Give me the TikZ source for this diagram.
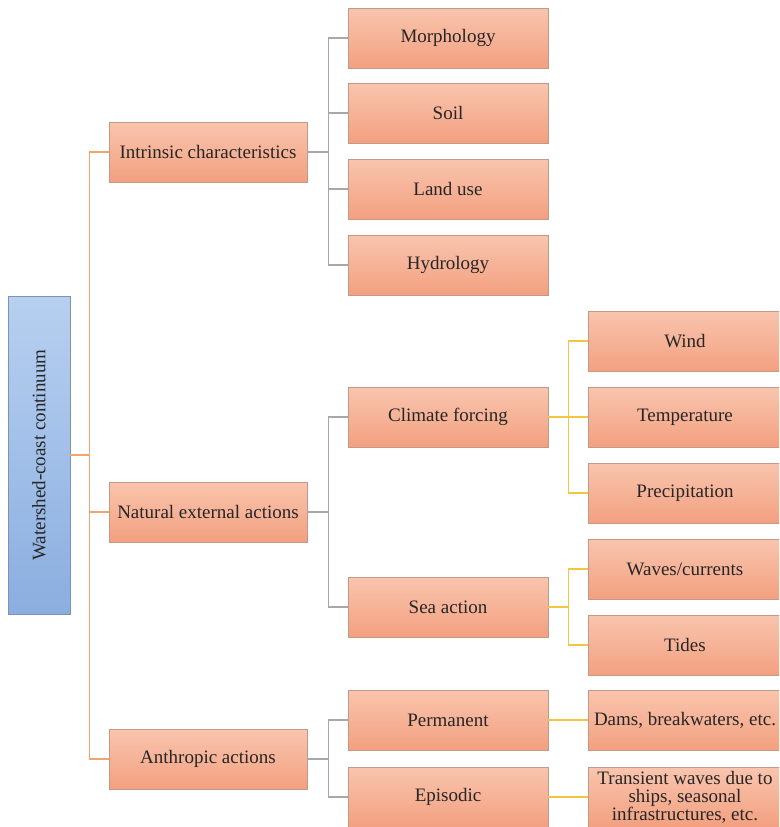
\documentclass[tikz,border=0pt]{standalone}
\usepackage{fontspec}
\setmainfont{Liberation Serif}
\newfontfamily\boxfont{Liberation Serif}
\usetikzlibrary{positioning}

\definecolor{boxtop}{HTML}{F9C5AE}
\definecolor{boxbot}{HTML}{F3A080}
\definecolor{boxedge}{HTML}{C49A86}
\definecolor{roottop}{HTML}{B7D0F0}
\definecolor{rootbot}{HTML}{8BAEE0}
\definecolor{rootedge}{HTML}{7F92B0}
\definecolor{linkA}{HTML}{F2A46E}
\definecolor{linkB}{HTML}{A8A8A8}
\definecolor{linkC}{HTML}{F4C443}

\tikzset{
    box/.style={draw=boxedge, line width=0.8pt, top color=boxtop, bottom color=boxbot,
        minimum height=60pt, inner sep=0pt, align=center, text=black!85,
        font=\boxfont\fontsize{19}{18}\selectfont},
    rootbox/.style={box, draw=rootedge, top color=roottop, bottom color=rootbot},
    linka/.style={draw=linkA, line width=1.6pt},
    linkb/.style={draw=linkB, line width=1.6pt},
    linkc/.style={draw=linkC, line width=1.6pt}
}

\begin{document}
\begin{tikzpicture}[x=1pt,y=-1pt]
    \clip (0,0) rectangle (779,827);
    \fill[white] (0,0) rectangle (779,827);

    \node[rootbox, minimum width=62pt, minimum height=318pt] (root) at (39,455) {};
    \node[rotate=90, font=\boxfont\fontsize{19}{18}\selectfont, text=black!85] (roottext) at (root.center) {Watershed-coast continuum};

    \node[box, minimum width=198pt] (intr) at (208,152) {Intrinsic characteristics};
    \node[box, minimum width=198pt] (nat) at (208,512) {Natural external actions};
    \node[box, minimum width=198pt] (anth) at (208,759) {Anthropic actions};

    \node[box, minimum width=200pt] (morph) at (448,38) {Morphology};
    \node[box, minimum width=200pt] (soil) at (448,113) {Soil};
    \node[box, minimum width=200pt] (land) at (448,189) {Land use};
    \node[box, minimum width=200pt] (hydro) at (448,265) {Hydrology};
    \node[box, minimum width=200pt] (clim) at (448,417) {Climate forcing};
    \node[box, minimum width=200pt] (sea) at (448,607) {Sea action};
    \node[box, minimum width=200pt] (perm) at (448,720) {Permanent};
    \node[box, minimum width=200pt] (epis) at (448,797) {Episodic};

    \node[box, minimum width=194pt] (wind) at (685,341) {Wind};
    \node[box, minimum width=194pt] (temp) at (685,417) {Temperature};
    \node[box, minimum width=194pt] (prec) at (685,493) {Precipitation};
    \node[box, minimum width=194pt] (wave) at (685,569) {Waves/currents};
    \node[box, minimum width=194pt] (tide) at (685,645) {Tides};
    \node[box, minimum width=194pt] (dams) at (685,720) {Dams, breakwaters, etc.};
    \node[box, minimum width=194pt] (trans) at (685,797) {Transient waves due to\\ships, seasonal\\infrastructures, etc.};

    % first level
    \foreach \c in {intr,nat,anth}
    \draw[linka] (root.east) -- ++(19,0) |- (\c.west);

    % second level
    \foreach \c in {morph,soil,land,hydro}
    \draw[linkb] (intr.east) -- ++(21,0) |- (\c.west);
    \foreach \c in {clim,sea}
    \draw[linkb] (nat.east) -- ++(21,0) |- (\c.west);
    \foreach \c in {perm,epis}
    \draw[linkb] (anth.east) -- ++(21,0) |- (\c.west);

    % third level
    \foreach \c in {wind,temp,prec}
    \draw[linkc] (clim.east) -- ++(20,0) |- (\c.west);
    \foreach \c in {wave,tide}
    \draw[linkc] (sea.east) -- ++(20,0) |- (\c.west);
    \draw[linkc] (perm.east) -- (dams.west);
    \draw[linkc] (epis.east) -- (trans.west);
\end{tikzpicture}
\end{document}
